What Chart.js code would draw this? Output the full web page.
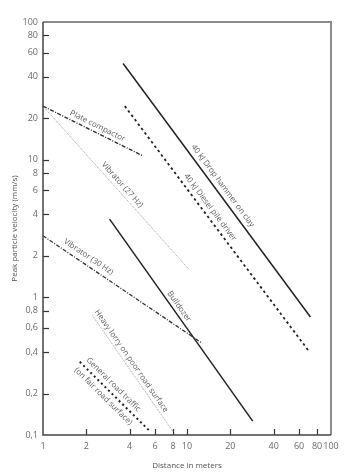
<!DOCTYPE html>
<html><head><meta charset="utf-8">
<script src="https://cdn.jsdelivr.net/npm/chart.js@4"></script>
<style>html,body{margin:0;padding:0;background:#fff;}</style>
</head><body>
<canvas id="c" width="354" height="475"></canvas>
<script>
// ---- data ----
const seriesNames = [
  '40 kJ Drop hammer on clay',
  '40 kJ Diesel pile driver',
  'Plate compactor',
  'Vibrator (27 Hz)',
  'Vibrator (30 Hz)',
  'Bulldozer',
  'Heavy lorry on poor road surface',
  'General road traffic'
];
const distDropHammer = [3.6, 72];   const velDropHammer = [50, 0.72];
const distDiesel     = [3.7, 71];   const velDiesel     = [24.5, 0.40];
const distPlate      = [1, 4.9];    const velPlate      = [24.5, 10.7];
const distVib27      = [1, 10.3];   const velVib27      = [24.5, 1.6];
const distVib30      = [1, 12.5];   const velVib30      = [2.8, 0.47];
const distBulldozer  = [2.9, 28.6]; const velBulldozer  = [3.7, 0.126];
const distLorry      = [2.2, 8.3];  const velLorry      = [0.74, 0.1];
const distRoad       = [1.8, 5.6];  const velRoad       = [0.34, 0.105];
const xTickValues = [1, 2, 4, 6, 8, 10, 20, 40, 60, 80, 100];
const yTickValues = [0.1, 0.2, 0.4, 0.6, 0.8, 1, 2, 4, 6, 8, 10, 20, 40, 60, 80, 100];
const xTitle = 'Distance in meters';
const yTitle = 'Peak particle velocity (mm/s)';

// ---- styles ----
const seriesDist = [distDropHammer, distDiesel, distPlate, distVib27, distVib30, distBulldozer, distLorry, distRoad];
const seriesVel  = [velDropHammer, velDiesel, velPlate, velVib27, velVib30, velBulldozer, velLorry, velRoad];
const styles = [
  {c:'#222', w:1.5, d:[]},
  {c:'#222', w:1.8, d:[2.5,3]},
  {c:'#333', w:1.4, d:[4,1.5,1,1.5]},
  {c:'#888', w:0.8, d:[1,1]},
  {c:'#333', w:1.3, d:[4,1.5,1,1.5]},
  {c:'#222', w:1.5, d:[]},
  {c:'#888', w:0.8, d:[1,1]},
  {c:'#222', w:2.0, d:[2,3]}
];
// label placement: series index, fraction along line, perpendicular offset (px)
const labelPlacement = [
  {s:0, text:seriesNames[0], t:0.50, off:7.5},
  {s:1, text:seriesNames[1], t:0.43, off:7.5},
  {s:2, text:seriesNames[2], t:0.52, off:6.5},
  {s:3, text:seriesNames[3], t:0.51, off:6.5},
  {s:4, text:seriesNames[4], t:0.26, off:8},
  {s:5, text:seriesNames[5], t:0.45, off:6.2},
  {s:6, text:seriesNames[6], t:0.41, off:6},
  {s:7, text:seriesNames[7], t:0.40, off:7.5},
  {s:7, text:'(on fair road surface)', t:0.41, off:-8}
];

const datasets = seriesNames.map((n, i) => ({
  label: n,
  data: seriesDist[i].map((x, j) => ({x, y: seriesVel[i][j]})),
  showLine: true,
  borderColor: styles[i].c,
  borderWidth: styles[i].w,
  borderDash: styles[i].d,
  pointRadius: 0,
  fill: false,
  clip: false
}));

const decor = {
  id: 'decor',
  afterDraw(chart) {
    const {ctx, chartArea: a, scales: {x, y}} = chart;
    ctx.save();
    ctx.setLineDash([]);
    ctx.lineCap = 'butt';
    // tick marks inside
    ctx.strokeStyle = '#333'; ctx.lineWidth = 1.2;
    xTickValues.forEach(v => {
      if (v <= 1 || v >= 100) return;
      const px = Math.round(x.getPixelForValue(v)) + 0.5;
      ctx.beginPath(); ctx.moveTo(px, a.bottom); ctx.lineTo(px, a.bottom - 6); ctx.stroke();
    });
    yTickValues.forEach(v => {
      if (v <= 0.1 || v >= 100) return;
      const py = Math.round(y.getPixelForValue(v)) + 0.5;
      ctx.beginPath(); ctx.moveTo(a.left, py); ctx.lineTo(a.left + 6, py); ctx.stroke();
    });
    // frame
    ctx.strokeStyle = '#8c8c8c'; ctx.lineWidth = 2;
    ctx.beginPath(); ctx.moveTo(a.left, a.top); ctx.lineTo(a.right, a.top); ctx.lineTo(a.right, a.bottom); ctx.stroke();
    ctx.strokeStyle = '#444'; ctx.lineWidth = 1.5;
    ctx.beginPath(); ctx.moveTo(a.left, a.top); ctx.lineTo(a.left, a.bottom); ctx.lineTo(a.right, a.bottom); ctx.stroke();
    // line labels
    ctx.fillStyle = '#606060';
    ctx.font = '8px "Open Sans"';
    ctx.textAlign = 'center'; ctx.textBaseline = 'middle';
    labelPlacement.forEach(L => {
      const pts = chart.getDatasetMeta(L.s).data;
      const x0 = pts[0].x, y0 = pts[0].y, x1 = pts[pts.length-1].x, y1 = pts[pts.length-1].y;
      const dx = x1 - x0, dy = y1 - y0, len = Math.hypot(dx, dy);
      const nx = dy / len, ny = -dx / len;
      const cx = x0 + dx * L.t + nx * L.off, cy = y0 + dy * L.t + ny * L.off;
      ctx.save(); ctx.translate(cx, cy); ctx.rotate(Math.atan2(dy, dx));
      ctx.fillText(L.text, 0, 0); ctx.restore();
    });
    ctx.restore();
  }
};

const tickFont = {family: '"Open Sans"', size: 9};
new Chart(document.getElementById('c'), {
  type: 'scatter',
  data: {datasets},
  options: {
    responsive: false, animation: false, devicePixelRatio: 1,
    layout: {padding: {left: 0, right: 23, top: 22, bottom: 0}},
    plugins: {legend: {display: false}, tooltip: {enabled: false}},
    scales: {
      x: {
        type: 'logarithmic', min: 1, max: 100,
        afterBuildTicks: s => { s.ticks = xTickValues.map(v => ({value: v})); },
        afterFit: s => { s.height = 40; },
        grid: {display: false, drawTicks: false},
        border: {display: false},
        ticks: {autoSkip: false, maxRotation: 0, padding: 6, color: '#6a6a6a', font: tickFont,
          callback: v => String(v)},
        title: {display: true, text: xTitle, color: '#555', font: {family: '"Open Sans"', size: 8}, padding: {top: 0, bottom: 4}}
      },
      y: {
        type: 'logarithmic', min: 0.1, max: 100,
        afterBuildTicks: s => { s.ticks = yTickValues.map(v => ({value: v})); },
        afterFit: s => { s.width = 43; },
        grid: {display: false, drawTicks: false},
        border: {display: false},
        ticks: {autoSkip: false, padding: 5, color: '#6a6a6a', font: tickFont,
          callback: v => String(v).replace('.', ',')},
        title: {display: true, text: yTitle, color: '#555', font: {family: '"Open Sans"', size: 8}, padding: {top: 10, bottom: 0}}
      }
    }
  },
  plugins: [decor]
});
</script>
</body></html>
